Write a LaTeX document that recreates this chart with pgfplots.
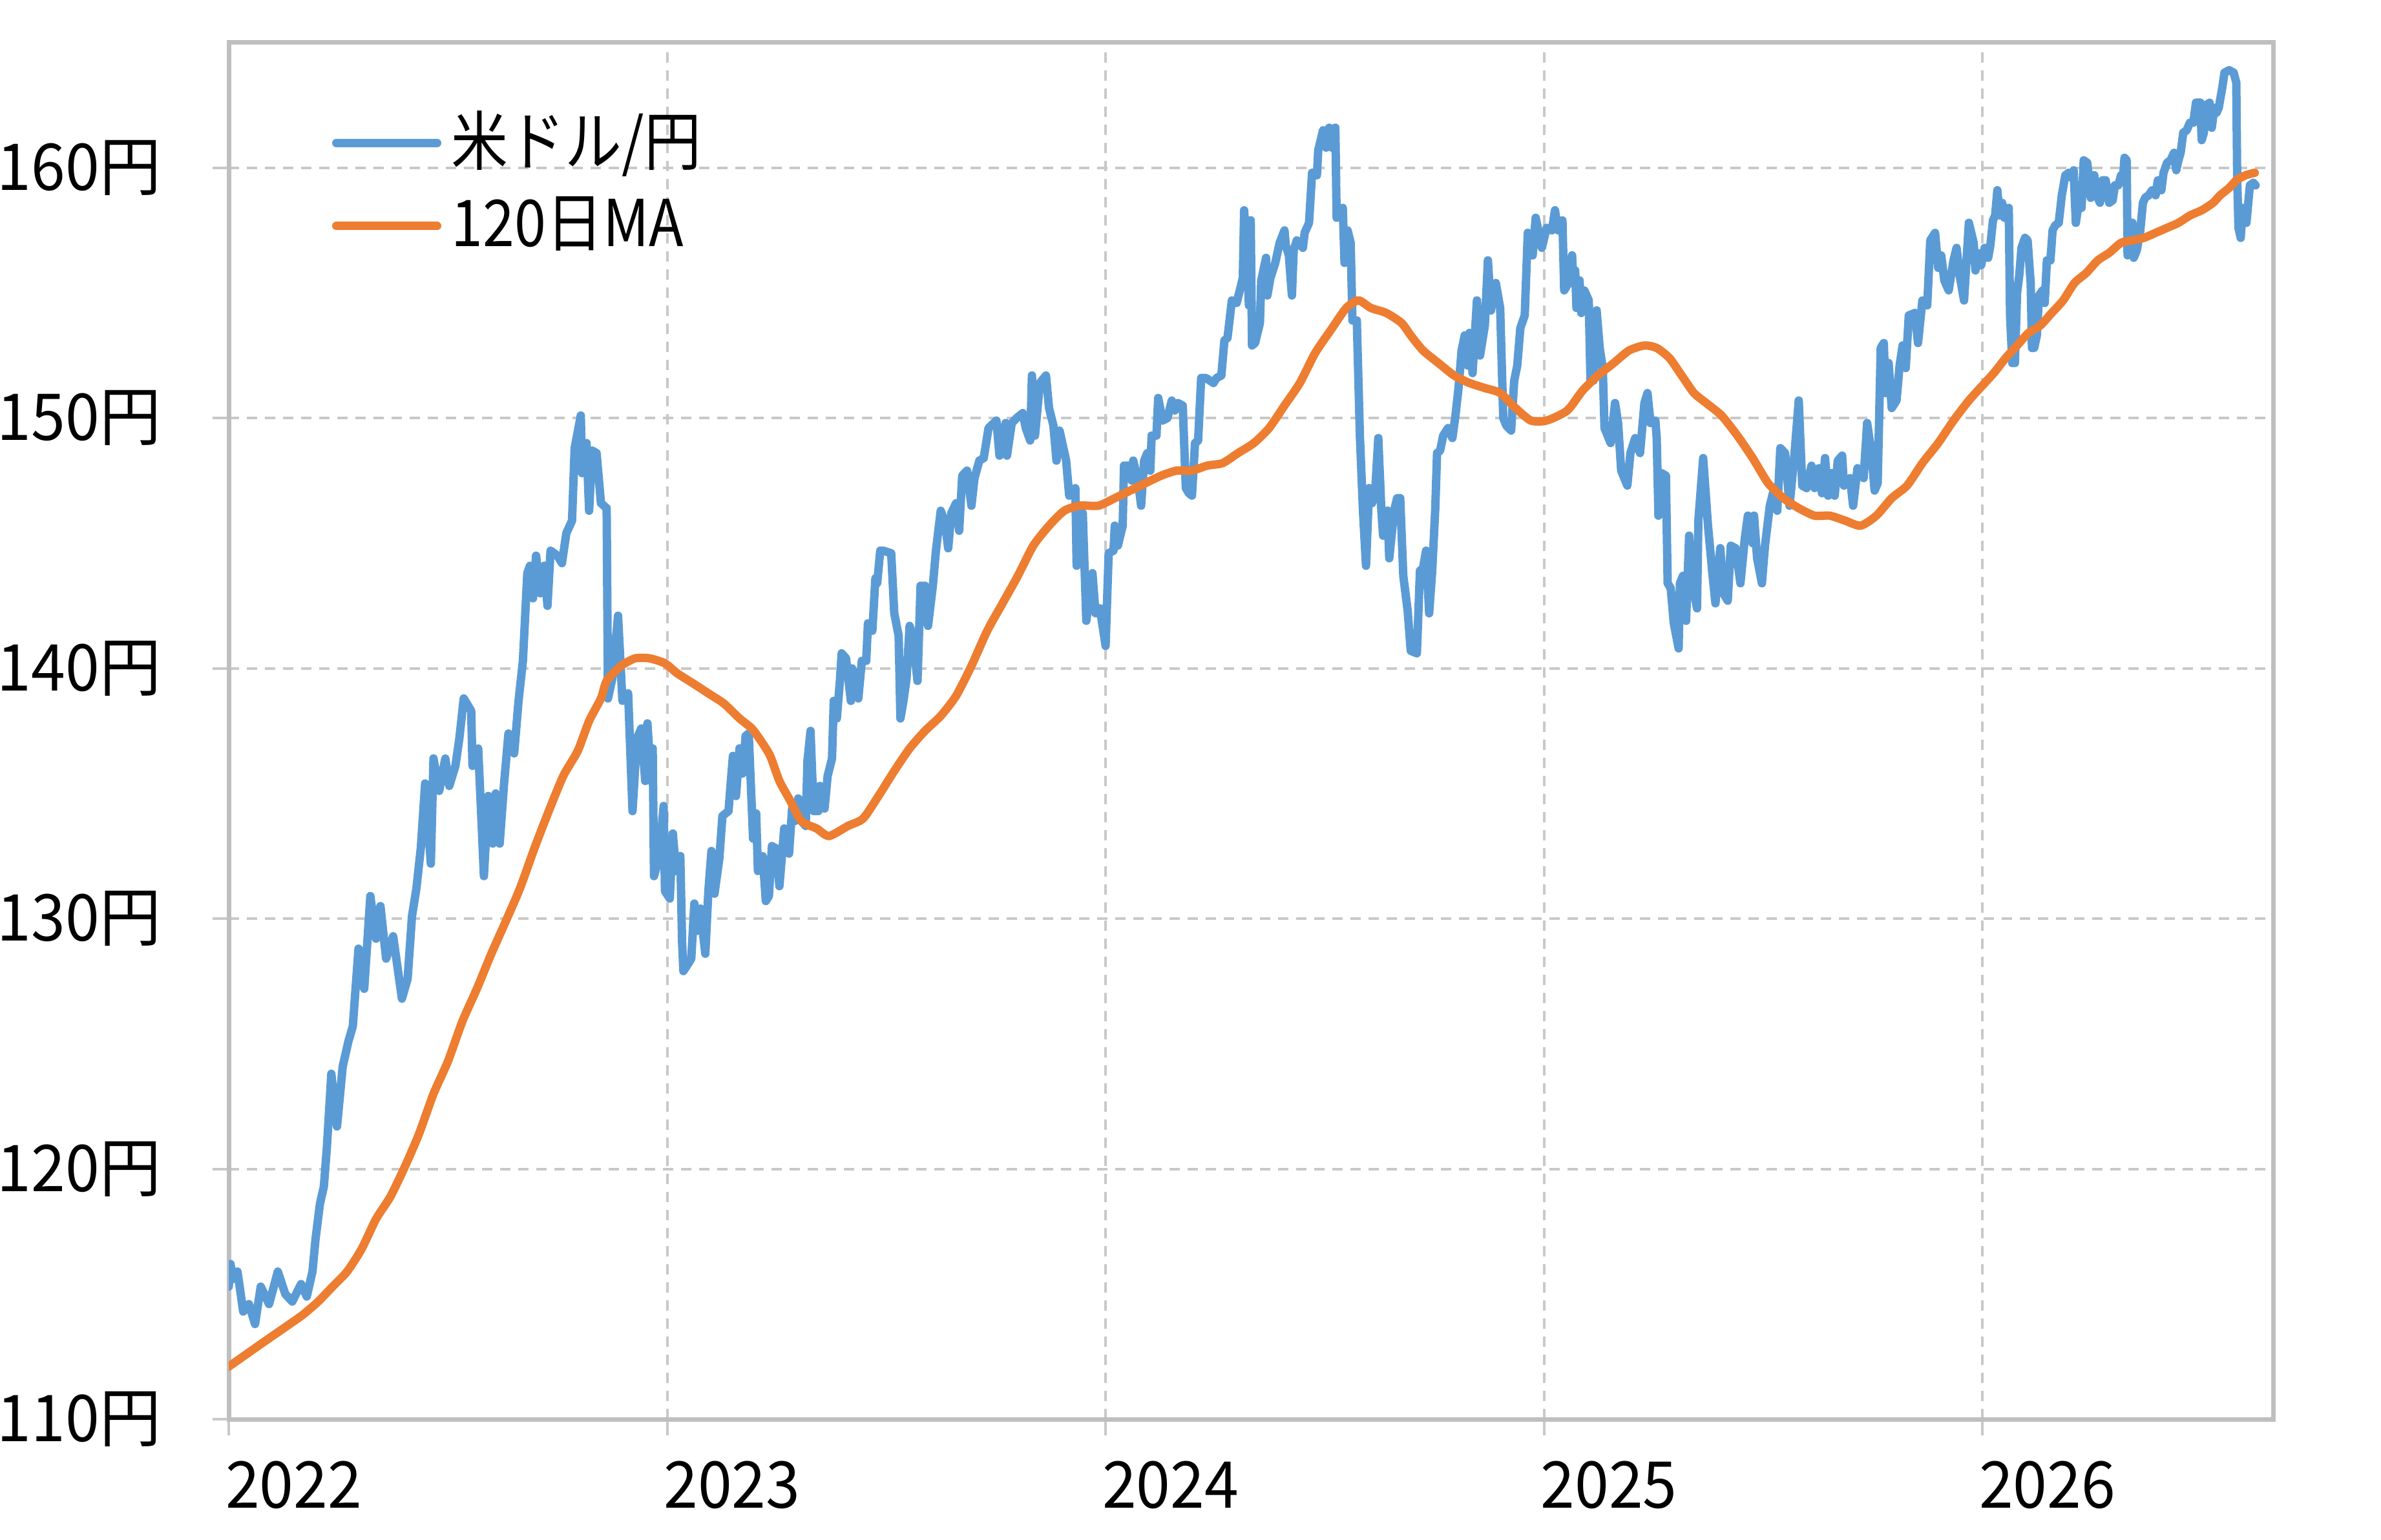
\documentclass[border=0pt]{standalone}
\usepackage{pgfplots}
\pgfplotsset{compat=1.18}
\usepackage{pgfplotstable}
\usepackage{fontspec}
\setmainfont{Noto Sans CJK JP}[FakeStretch=0.88]
\newfontfamily\tickfont{Noto Sans CJK JP}[FakeStretch=0.95]
\definecolor{cblue}{HTML}{5B9BD5}
\definecolor{corange}{HTML}{ED7D31}
\definecolor{gridgray}{HTML}{C8C8C8}
\definecolor{framegray}{HTML}{BFBFBF}

\pgfplotstableread{
x y
2022.000 115.3
2022.004 116.2
2022.010 115.6
2022.020 115.9
2022.033 114.3
2022.046 114.6
2022.060 113.8
2022.073 115.3
2022.092 114.6
2022.112 115.9
2022.129 115.0
2022.145 114.7
2022.165 115.4
2022.178 114.9
2022.191 115.9
2022.198 117.2
2022.208 118.6
2022.217 119.3
2022.224 120.9
2022.234 123.8
2022.247 121.7
2022.260 124.1
2022.273 125.1
2022.283 125.7
2022.296 128.8
2022.309 127.2
2022.323 130.9
2022.336 129.2
2022.346 130.5
2022.359 128.4
2022.375 129.3
2022.395 126.8
2022.408 127.6
2022.418 130.1
2022.428 131.2
2022.438 132.8
2022.448 135.4
2022.461 132.2
2022.467 136.4
2022.480 135.1
2022.494 136.4
2022.503 135.3
2022.517 136.1
2022.526 137.2
2022.536 138.8
2022.553 138.3
2022.556 136.1
2022.569 136.8
2022.576 134.1
2022.582 131.7
2022.592 134.9
2022.602 133.0
2022.609 135.0
2022.618 133.0
2022.628 135.4
2022.638 137.4
2022.651 136.6
2022.661 138.7
2022.671 140.3
2022.681 143.8
2022.687 144.1
2022.694 142.8
2022.701 144.5
2022.711 143.0
2022.720 144.1
2022.727 142.5
2022.734 144.7
2022.750 144.5
2022.760 144.2
2022.770 145.4
2022.783 145.9
2022.789 148.8
2022.803 150.1
2022.806 147.8
2022.816 149.0
2022.822 146.3
2022.829 148.7
2022.839 148.6
2022.849 146.6
2022.862 146.4
2022.865 138.8
2022.875 139.6
2022.888 142.1
2022.898 138.7
2022.911 139.0
2022.921 134.3
2022.931 137.2
2022.941 137.6
2022.950 135.5
2022.955 137.8
2022.963 135.5
2022.967 136.8
2022.970 131.7
2022.981 132.4
2022.992 134.5
2022.995 131.1
2023.006 130.8
2023.013 133.4
2023.020 131.9
2023.030 132.5
2023.034 129.1
2023.037 127.9
2023.048 128.2
2023.055 128.4
2023.062 130.6
2023.066 129.5
2023.076 130.4
2023.080 129.7
2023.087 128.6
2023.094 131.1
2023.101 132.7
2023.108 131.0
2023.119 132.4
2023.126 134.1
2023.140 134.3
2023.143 135.0
2023.150 136.5
2023.157 134.9
2023.165 136.8
2023.172 135.8
2023.179 137.3
2023.186 137.4
2023.196 133.2
2023.203 134.2
2023.207 131.9
2023.218 132.5
2023.225 130.7
2023.232 130.9
2023.239 132.9
2023.249 132.8
2023.256 131.3
2023.267 133.6
2023.278 132.6
2023.285 134.4
2023.292 133.9
2023.299 134.8
2023.306 133.9
2023.316 133.7
2023.320 136.3
2023.327 137.5
2023.334 134.3
2023.345 134.3
2023.348 135.3
2023.359 134.4
2023.366 135.7
2023.376 136.4
2023.380 138.7
2023.387 138.0
2023.394 139.5
2023.398 140.6
2023.408 140.4
2023.419 138.7
2023.422 140.0
2023.429 139.6
2023.436 138.8
2023.444 140.3
2023.454 140.3
2023.458 141.8
2023.468 141.5
2023.475 143.6
2023.479 143.4
2023.486 144.7
2023.493 144.7
2023.511 144.6
2023.518 142.2
2023.528 141.3
2023.532 138.0
2023.539 138.7
2023.546 139.6
2023.553 141.7
2023.560 141.3
2023.571 139.5
2023.578 143.3
2023.588 143.3
2023.595 141.7
2023.606 143.3
2023.613 144.7
2023.624 146.3
2023.634 145.8
2023.641 144.8
2023.648 146.2
2023.659 146.6
2023.666 145.5
2023.673 147.7
2023.684 147.9
2023.694 146.5
2023.701 147.6
2023.712 148.3
2023.722 148.4
2023.733 149.6
2023.751 149.9
2023.758 148.5
2023.772 149.8
2023.775 148.5
2023.786 149.8
2023.797 150.0
2023.811 150.2
2023.818 149.6
2023.828 149.1
2023.832 151.7
2023.839 149.3
2023.850 151.4
2023.864 151.7
2023.871 150.4
2023.881 149.7
2023.888 148.3
2023.895 149.5
2023.910 148.3
2023.917 146.9
2023.931 147.2
2023.934 144.1
2023.948 146.2
2023.956 141.9
2023.970 143.8
2023.977 142.2
2023.987 142.4
2024.000 140.9
2024.007 144.6
2024.018 144.7
2024.021 145.7
2024.028 144.9
2024.039 145.7
2024.042 148.1
2024.053 148.1
2024.060 147.5
2024.063 148.3
2024.074 147.5
2024.081 146.5
2024.088 148.3
2024.095 148.6
2024.102 147.9
2024.105 149.3
2024.116 149.3
2024.120 150.8
2024.130 149.9
2024.141 150.0
2024.151 150.7
2024.158 150.3
2024.165 150.6
2024.176 150.5
2024.183 147.2
2024.190 147.0
2024.197 146.9
2024.204 149.0
2024.211 149.1
2024.218 151.6
2024.229 151.6
2024.246 151.4
2024.253 151.6
2024.264 151.7
2024.271 153.1
2024.278 153.2
2024.288 154.7
2024.299 154.6
2024.306 155.1
2024.313 155.6
2024.316 158.3
2024.323 156.2
2024.327 154.5
2024.331 157.9
2024.334 152.9
2024.341 153.0
2024.352 153.8
2024.355 155.5
2024.366 156.4
2024.369 154.9
2024.376 155.6
2024.387 156.2
2024.397 157.0
2024.408 157.5
2024.411 156.9
2024.418 156.5
2024.425 154.9
2024.429 156.7
2024.436 157.1
2024.450 156.8
2024.454 157.4
2024.464 157.8
2024.471 159.8
2024.482 159.7
2024.485 160.7
2024.496 161.5
2024.503 160.8
2024.510 161.6
2024.517 160.8
2024.524 161.6
2024.527 158.0
2024.541 158.4
2024.545 156.2
2024.552 157.5
2024.559 157.0
2024.563 153.9
2024.573 153.9
2024.580 149.3
2024.587 146.3
2024.594 144.1
2024.601 147.2
2024.608 146.6
2024.615 147.1
2024.622 149.2
2024.629 146.3
2024.633 145.3
2024.643 146.3
2024.647 144.4
2024.658 146.3
2024.665 146.8
2024.672 146.8
2024.679 143.7
2024.689 142.3
2024.696 140.7
2024.710 140.6
2024.717 143.9
2024.724 144.0
2024.731 144.7
2024.738 142.2
2024.745 143.9
2024.752 146.4
2024.756 148.6
2024.763 148.7
2024.770 149.3
2024.781 149.6
2024.791 149.2
2024.798 150.1
2024.805 151.2
2024.812 152.7
2024.819 153.3
2024.826 152.1
2024.830 153.4
2024.837 151.8
2024.847 154.7
2024.854 152.5
2024.865 153.7
2024.872 156.3
2024.879 154.3
2024.890 155.4
2024.900 154.4
2024.907 150.0
2024.914 149.7
2024.925 149.5
2024.932 151.5
2024.939 152.1
2024.946 153.6
2024.956 154.1
2024.963 157.4
2024.974 156.5
2024.981 158.0
2024.995 156.8
2025.006 157.6
2025.018 157.5
2025.025 158.3
2025.032 157.5
2025.042 157.9
2025.046 155.1
2025.056 155.4
2025.064 156.5
2025.067 155.4
2025.071 155.9
2025.074 154.4
2025.081 155.5
2025.085 154.2
2025.092 155.1
2025.102 154.7
2025.106 151.5
2025.113 151.5
2025.120 154.3
2025.127 152.8
2025.134 152.0
2025.138 149.6
2025.145 149.3
2025.152 149.0
2025.162 150.6
2025.169 149.8
2025.176 147.9
2025.190 147.3
2025.197 148.6
2025.208 149.2
2025.219 148.6
2025.229 150.6
2025.236 151.0
2025.243 149.8
2025.254 149.9
2025.257 149.2
2025.261 146.1
2025.268 147.8
2025.278 147.7
2025.282 143.4
2025.289 143.2
2025.296 141.8
2025.307 140.8
2025.310 143.4
2025.317 143.7
2025.324 141.9
2025.331 145.3
2025.338 143.4
2025.349 142.4
2025.352 145.9
2025.363 148.4
2025.374 145.7
2025.384 143.8
2025.391 142.6
2025.402 144.8
2025.409 143.0
2025.419 142.7
2025.426 144.9
2025.437 144.8
2025.448 143.4
2025.458 145.2
2025.465 146.1
2025.476 145.0
2025.479 146.1
2025.486 144.4
2025.497 143.4
2025.504 144.9
2025.515 146.5
2025.525 147.2
2025.532 146.3
2025.539 148.8
2025.550 148.6
2025.560 146.5
2025.571 148.5
2025.581 150.7
2025.589 147.3
2025.599 147.2
2025.610 148.1
2025.617 147.2
2025.627 148.0
2025.634 147.0
2025.641 148.4
2025.648 146.9
2025.655 147.8
2025.663 146.9
2025.670 148.3
2025.680 148.5
2025.684 147.3
2025.698 147.6
2025.705 146.5
2025.715 148.0
2025.729 147.6
2025.737 149.8
2025.747 148.6
2025.754 147.1
2025.761 147.4
2025.768 152.8
2025.775 153.0
2025.779 151.0
2025.786 152.2
2025.793 150.4
2025.804 150.7
2025.811 152.1
2025.818 152.9
2025.825 152.0
2025.832 154.1
2025.846 154.2
2025.853 153.0
2025.863 154.7
2025.874 154.5
2025.881 157.1
2025.892 157.4
2025.899 156.0
2025.906 156.5
2025.913 155.5
2025.923 155.1
2025.934 156.3
2025.941 156.8
2025.948 155.7
2025.958 154.7
2025.969 157.8
2025.980 157.0
2025.984 155.9
2025.989 156.6
2025.997 156.1
2026.005 156.8
2026.013 156.4
2026.018 156.9
2026.024 157.9
2026.029 158.1
2026.034 159.1
2026.039 158.1
2026.045 158.6
2026.050 158.0
2026.060 158.4
2026.063 154.1
2026.068 152.2
2026.074 152.2
2026.079 155.0
2026.084 155.7
2026.089 156.8
2026.097 157.2
2026.103 157.1
2026.110 155.4
2026.113 152.8
2026.118 152.8
2026.124 153.3
2026.129 154.9
2026.137 155.1
2026.142 154.6
2026.147 156.3
2026.155 156.3
2026.160 157.5
2026.166 157.7
2026.174 157.8
2026.181 158.9
2026.189 159.7
2026.197 159.8
2026.203 159.6
2026.208 159.9
2026.213 157.8
2026.218 158.4
2026.226 158.4
2026.231 160.3
2026.239 160.2
2026.245 159.3
2026.247 158.8
2026.255 159.7
2026.263 158.8
2026.268 158.6
2026.274 159.5
2026.281 159.5
2026.289 158.6
2026.297 158.7
2026.302 159.3
2026.310 159.3
2026.316 159.7
2026.321 159.7
2026.324 160.4
2026.329 160.3
2026.331 156.5
2026.337 156.6
2026.342 157.8
2026.345 156.4
2026.352 156.7
2026.360 157.5
2026.366 158.6
2026.371 158.8
2026.379 158.9
2026.387 159.1
2026.395 158.9
2026.400 159.5
2026.408 159.1
2026.413 159.8
2026.421 160.2
2026.429 160.3
2026.437 160.6
2026.442 159.9
2026.447 160.3
2026.452 160.6
2026.458 161.4
2026.466 161.5
2026.473 161.8
2026.481 161.8
2026.487 162.6
2026.497 162.6
2026.500 161.1
2026.505 161.4
2026.510 162.5
2026.518 162.6
2026.523 161.6
2026.529 162.4
2026.534 162.2
2026.539 162.4
2026.547 163.2
2026.552 163.8
2026.563 163.9
2026.573 163.8
2026.579 163.4
2026.581 159.6
2026.584 157.6
2026.589 157.2
2026.594 158.4
2026.600 158.2
2026.602 157.8
2026.610 159.3
2026.618 159.4
2026.623 159.3
}\usdjpy

\pgfplotstableread{
x y
2022.000 112.1
2022.073 113.0
2022.139 113.8
2022.171 114.2
2022.204 114.7
2022.237 115.3
2022.270 115.9
2022.303 116.8
2022.336 118.0
2022.369 118.9
2022.402 120.1
2022.434 121.4
2022.467 123.0
2022.500 124.3
2022.533 125.9
2022.566 127.2
2022.599 128.6
2022.632 129.9
2022.664 131.2
2022.697 132.8
2022.730 134.3
2022.763 135.7
2022.796 136.7
2022.822 137.9
2022.849 138.8
2022.862 139.5
2022.895 140.1
2022.927 140.4
2022.960 140.4
2022.995 140.2
2023.023 139.8
2023.059 139.4
2023.094 139.0
2023.129 138.6
2023.165 138.0
2023.193 137.6
2023.214 137.1
2023.235 136.5
2023.256 135.5
2023.278 134.8
2023.306 133.9
2023.341 133.6
2023.369 133.3
2023.412 133.7
2023.447 134.0
2023.482 134.9
2023.518 135.9
2023.553 136.8
2023.588 137.5
2023.624 138.1
2023.659 138.9
2023.694 140.1
2023.730 141.5
2023.765 142.6
2023.800 143.7
2023.835 144.9
2023.871 145.7
2023.906 146.3
2023.941 146.5
2023.984 146.5
2024.021 146.8
2024.056 147.1
2024.091 147.4
2024.127 147.7
2024.162 147.9
2024.197 147.9
2024.232 148.1
2024.267 148.2
2024.302 148.6
2024.338 149.0
2024.373 149.6
2024.408 150.5
2024.443 151.4
2024.478 152.6
2024.513 153.5
2024.549 154.4
2024.577 154.7
2024.605 154.4
2024.640 154.2
2024.675 153.8
2024.696 153.3
2024.724 152.7
2024.759 152.2
2024.795 151.7
2024.830 151.4
2024.865 151.2
2024.900 151.0
2024.935 150.4
2024.970 149.9
2025.006 149.9
2025.053 150.3
2025.088 151.1
2025.123 151.7
2025.159 152.2
2025.194 152.7
2025.229 152.9
2025.257 152.8
2025.286 152.4
2025.314 151.7
2025.342 151.0
2025.370 150.6
2025.405 150.1
2025.441 149.3
2025.476 148.4
2025.511 147.4
2025.546 146.8
2025.581 146.4
2025.617 146.1
2025.652 146.1
2025.687 145.9
2025.722 145.7
2025.758 146.1
2025.793 146.8
2025.828 147.3
2025.863 148.2
2025.899 149.0
2025.934 149.9
2025.969 150.7
2026.000 151.3
2026.026 151.8
2026.053 152.4
2026.079 152.9
2026.105 153.4
2026.132 153.7
2026.158 154.2
2026.184 154.7
2026.210 155.4
2026.237 155.8
2026.263 156.3
2026.289 156.6
2026.316 157.0
2026.342 157.1
2026.368 157.2
2026.395 157.4
2026.421 157.6
2026.447 157.8
2026.474 158.1
2026.500 158.3
2026.526 158.6
2026.542 158.9
2026.563 159.2
2026.579 159.5
2026.600 159.7
2026.621 159.8
}\mavg

\begin{document}
\begin{tikzpicture}
\path[use as bounding box] (-35.4pt,-18.6pt) rectangle (333.1pt,219.7pt);
\begin{axis}[
  at={(0pt,0pt)}, anchor=south west,
  scale only axis, width=316.4pt, height=213.1pt,
  xmin=2022, xmax=2026.663, ymin=110, ymax=165,
  axis line style={framegray, line width=0.7pt},
  xtick={2022,2023,2024,2025,2026},
  xticklabels={2022,2023,2024,2025,2026},
  ytick={110,120,130,140,150,160},
  yticklabels={110円,120円,130円,140円,150円,160円},
  tick align=outside, major tick length=2.5pt,
  tick style={gridgray, line width=0.4pt},
  xtick pos=bottom, ytick pos=left,
  xmajorgrids, ymajorgrids,
  major grid style={gridgray, line width=0.4pt, dash pattern=on 1.6pt off 1.2pt},
  tick label style={font=\tickfont\fontsize{10}{12}\selectfont, text=black},
  xticklabel style={anchor=north west, inner sep=0pt, xshift=-0.7pt, yshift=-3.8pt},
  yticklabel style={anchor=east, inner sep=0pt, xshift=-7.8pt},
  legend style={at={(rel axis cs:0,1)}, anchor=north west, xshift=15.8pt, yshift=-10.4pt,
    draw=none, fill=none, inner sep=0pt, row sep=3.3pt, column sep=1.6pt,
    font=\fontsize{10}{12}\selectfont,
    nodes={inner sep=0pt, anchor=west}},
  legend cell align=left,
  legend image code/.code={\draw[#1, line width=1.3pt, line cap=round] (0pt,0pt) -- (15.6pt,0pt);},
  every axis plot/.append style={line join=round, line cap=round},
]
\addplot[cblue, line width=1.3pt, no marks] table[x=x, y=y] {\usdjpy};
\addlegendentry{米ドル/円}
\addplot[corange, line width=1.3pt, no marks, smooth, tension=0.4] table[x=x, y=y] {\mavg};
\addlegendentry{120日MA}
\end{axis}
\end{tikzpicture}
\end{document}
